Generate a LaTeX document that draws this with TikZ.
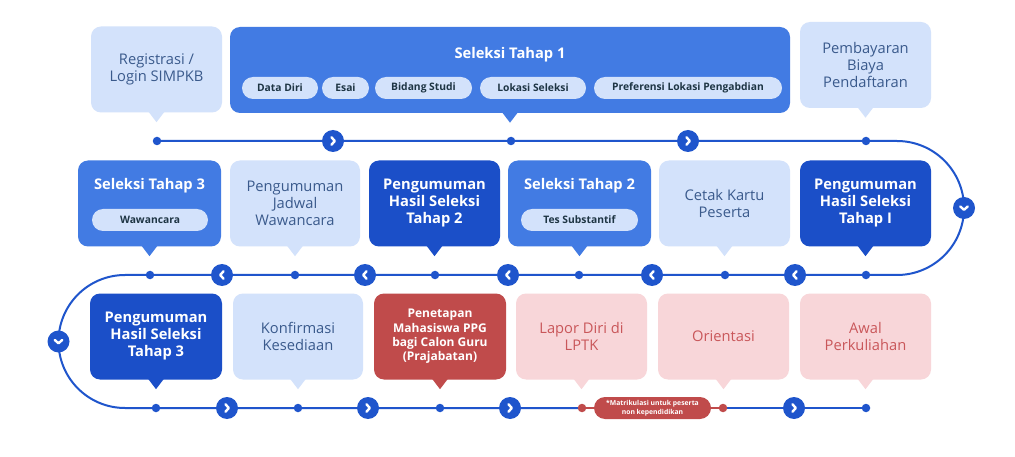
\documentclass[tikz,border=0pt]{standalone}
\usepackage{fontspec}
\setmainfont{Open Sans}
\definecolor{boxlight}{HTML}{D3E2FB}
\definecolor{txtlight}{HTML}{3A5A8C}
\definecolor{boxmid}{HTML}{427BE3}
\definecolor{boxdark}{HTML}{1B4FC8}
\definecolor{boxred}{HTML}{C04B4B}
\definecolor{boxpink}{HTML}{F8D6D9}
\definecolor{txtpink}{HTML}{C9575A}
\definecolor{chiptxt}{HTML}{1E3544}
\definecolor{track}{HTML}{1F55CC}
\pgfdeclarelayer{background layer}
\pgfsetlayers{background layer,main}
\tikzstyle{box}=[rounded corners=10pt,inner sep=0pt,align=center,minimum height=86pt]
\tikzstyle{lightbox}=[fill=boxlight,text=txtlight,font=\fontsize{14.7}{17}\selectfont]
\tikzstyle{midbox}=[fill=boxmid]
\tikzstyle{darkbox}=[fill=boxdark,text=white,font=\bfseries\fontsize{14.7}{17}\selectfont]
\tikzstyle{redbox}=[fill=boxred,text=white,font=\bfseries\fontsize{12}{14.3}\selectfont]
\tikzstyle{pinkbox}=[fill=boxpink,text=txtpink,font=\fontsize{14.7}{17}\selectfont]
\tikzstyle{title}=[text=white,font=\bfseries\fontsize{14.7}{17}\selectfont]
\tikzstyle{chip}=[rounded corners=11pt,fill=boxlight,text=chiptxt,inner sep=0pt,minimum height=22pt,font=\bfseries\fontsize{10.3}{12}\selectfont]
\tikzstyle{dot}=[circle,fill=track,inner sep=0pt,minimum size=8.5pt]
\tikzstyle{reddot}=[circle,fill=boxred,inner sep=0pt,minimum size=8.5pt]
\tikzstyle{arr}=[circle,fill=track,inner sep=0pt,minimum size=22pt]
\tikzstyle{chev}=[white,line width=2.4pt,line cap=round,line join=round]
\tikzstyle{arrR}=[arr,path picture={\draw[chev] ([xshift=-1.6pt,yshift=3.8pt]path picture bounding box.center) -- ++(3.4pt,-3.8pt) -- ++(-3.4pt,-3.8pt);}]
\tikzstyle{arrL}=[arr,path picture={\draw[chev] ([xshift=1.6pt,yshift=3.8pt]path picture bounding box.center) -- ++(-3.4pt,-3.8pt) -- ++(3.4pt,-3.8pt);}]
\tikzstyle{arrD}=[arr,path picture={\draw[chev] ([xshift=-3.8pt,yshift=1.6pt]path picture bounding box.center) -- ++(3.8pt,-3.4pt) -- ++(3.8pt,3.4pt);}]
\tikzstyle{line}=[track,line width=2pt]
\tikzstyle{redline}=[boxred,line width=1.5pt]
\tikzstyle{pill}=[rounded corners=11pt,fill=boxred,text=white,inner sep=0pt,minimum width=117pt,minimum height=22pt,align=center,font=\bfseries\fontsize{6.8}{8.7}\selectfont]
\begin{document}
\begin{tikzpicture}[x=1pt,y=-1pt]
			\useasboundingbox (0,0) rectangle (1015,457);
			\foreach \n/\x/\y/\w/\s/\t in {reg/156.5/69.5/131/lightbox/{Registrasi /\\Login SIMPKB},
				st1/510/70/560/midbox/{},
				bayar/865.5/65/131/lightbox/{Pembayaran\\Biaya\\Pendaftaran},
				st3/149.5/203.5/143/midbox/{},
				jadwal/295/203.5/130/lightbox/{Pengumuman\\Jadwal\\Wawancara},
				hasil2/434.5/203.5/131/darkbox/{Pengumuman\\Hasil Seleksi\\Tahap 2},
				st2/579.5/203.5/143/midbox/{},
				kartu/724.5/203.5/131/lightbox/{Cetak Kartu\\Peserta},
				hasil1/865.5/203.5/131/darkbox/{Pengumuman\\Hasil Seleksi\\Tahap I},
				hasil3/156/336.5/132/darkbox/{Pengumuman\\Hasil Seleksi\\Tahap 3},
				konf/298/336.5/130/lightbox/{Konfirmasi\\Kesediaan},
				tetap/440/336.5/132/redbox/{Penetapan\\Mahasiswa PPG\\bagi Calon Guru\\(Prajabatan)},
				lapor/581.5/336.5/131/pinkbox/{Lapor Diri di\\LPTK},
				orient/723.5/336.5/131/pinkbox/{Orientasi},
				awal/865.5/336.5/131/pinkbox/{Awal\\Perkuliahan}}
			\node[box,\s,minimum width=\w] (\n) at (\x,\y) {\t};
			\node[title] (st1t) at (510,55) {Seleksi Tahap 1};
			\node[title] (st3t) at (149.5,186) {Seleksi Tahap 3};
			\node[title] (st2t) at (579.5,186) {Seleksi Tahap 2};
			\foreach \n/\x/\y/\w/\t in {c1/280/88/76/Data Diri,c2/345.5/88/47/Esai,c3/423.5/88/97/Bidang Studi,
				c4/533/88/106/Lokasi Seleksi,c5/688/88/188/Preferensi Lokasi Pengabdian,
				c6/150/220/116/Wawancara,c7/579.5/220/117/Tes Substantif}
			\node[chip,minimum width=\w] (\n) at (\x,\y) {\t};
			
			\foreach \i/\x in {1/157,2/511,3/866}
			\node[dot] (r1d\i) at (\x,141) {};
			\foreach \i/\x in {1/333,2/688}
			\node[arrR] (r1a\i) at (\x,141) {};
			\foreach \i/\x in {1/150,2/295,3/435,4/579,5/725,6/866}
			\node[dot] (r2d\i) at (\x,275) {};
			\foreach \i/\x in {1/222,2/365,3/508,4/652,5/795}
			\node[arrL] (r2a\i) at (\x,275) {};
			\foreach \i/\x/\s in {1/156/dot,2/298/dot,3/440/dot,4/582/reddot,5/723/reddot,6/866/dot}
			\node[\s] (r3d\i) at (\x,408) {};
			\foreach \i/\x in {1/227,2/368,3/510,4/794}
			\node[arrR] (r3a\i) at (\x,408) {};
			\node[arrD] (turnR) at (964,208) {};
			\node[arrD] (turnL) at (58.5,341.5) {};
			\node[pill] (matrik) at (652.5,408) {*Matrikulasi untuk peserta\\non kependidikan};
			
			\foreach \n/\col in {reg/boxlight,st1/boxmid,bayar/boxlight,st3/boxmid,jadwal/boxlight,hasil2/boxdark,
				st2/boxmid,kartu/boxlight,hasil1/boxdark,hasil3/boxdark,konf/boxlight,tetap/boxred,
				lapor/boxpink,orient/boxpink,awal/boxpink}
			\fill[\col] ([xshift=-8pt,yshift=1pt]\n.south) -- ([xshift=8pt,yshift=1pt]\n.south) -- ([yshift=-9.5pt]\n.south) -- cycle;
			
			\begin{pgfonlayer}{background layer}
			\fill[white] (0,0) rectangle (1015,457);
			\draw[line] (r1d1.center) -- (897,141) arc[start angle=-90,end angle=90,radius=67]
				-- (125,275) arc[start angle=270,end angle=90,radius=66.5] -- (r3d4.center);
			\draw[redline] (r3d4) -- (r3d5);
			\draw[line] (r3d5) -- (r3d6.center);
			\end{pgfonlayer}
		\end{tikzpicture}
\end{document}
